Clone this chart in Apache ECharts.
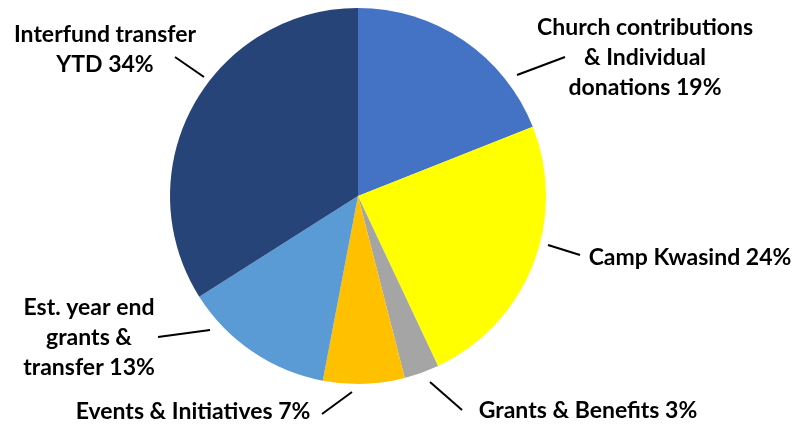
<!DOCTYPE html>
<html><head><meta charset="utf-8">
<script src="https://cdn.jsdelivr.net/npm/echarts@6/dist/echarts.min.js"></script>
<style>html,body{margin:0;padding:0;background:#fff}#c{width:797px;height:429px}</style>
</head><body><div id="c"></div>
<script>
const categories = ["Church contributions\n& Individual\ndonations", "Camp Kwasind", "Grants & Benefits", "Events & Initiatives", "Est. year end\ngrants &\ntransfer", "Interfund transfer\nYTD"];
const values = [19, 24, 3, 7, 13, 34];
const colors = ["#4472C4", "#FFFF00", "#A5A5A5", "#FFC000", "#5B9BD5", "#264478"];
const labelPos = [[645, 58], [690, 258], [588, 411], [193, 412], [89, 338], [105, 50]];
const leaderLines = [
  [[517, 75], [565, 57]],
  [[548, 245], [580, 255]],
  [[430, 382], [462, 410]],
  [[352, 392], [322, 414]],
  [[158, 337], [210, 330]],
  [[175, 57], [204, 77]]
];

const chart = echarts.init(document.getElementById('c'));
chart.setOption({
  animation: false,
  series: [{
    type: 'pie',
    center: [358, 196],
    radius: 188,
    startAngle: 90,
    clockwise: true,
    data: categories.map((n, i) => ({ name: n, value: values[i], itemStyle: { color: colors[i] } })),
    itemStyle: { borderWidth: 0 },
    label: {
      show: true,
      formatter: p => p.name + ' ' + p.value + '%',
      fontFamily: 'Lato',
      fontWeight: 'bold',
      fontSize: 23,
      lineHeight: 30,
      color: '#000',
      align: 'center',
      overflow: 'none'
    },
    labelLine: { show: true, lineStyle: { color: '#000', width: 2 } },
    labelLayout: function (params) {
      const i = params.dataIndex;
      const p = labelPos[i];
      const l = leaderLines[i];
      const mid = [(l[0][0] + l[1][0]) / 2, (l[0][1] + l[1][1]) / 2];
      return { x: p[0], y: p[1], align: 'center', verticalAlign: 'middle', labelLinePoints: [l[0], mid, l[1]] };
    }
  }]
});
</script></body></html>
